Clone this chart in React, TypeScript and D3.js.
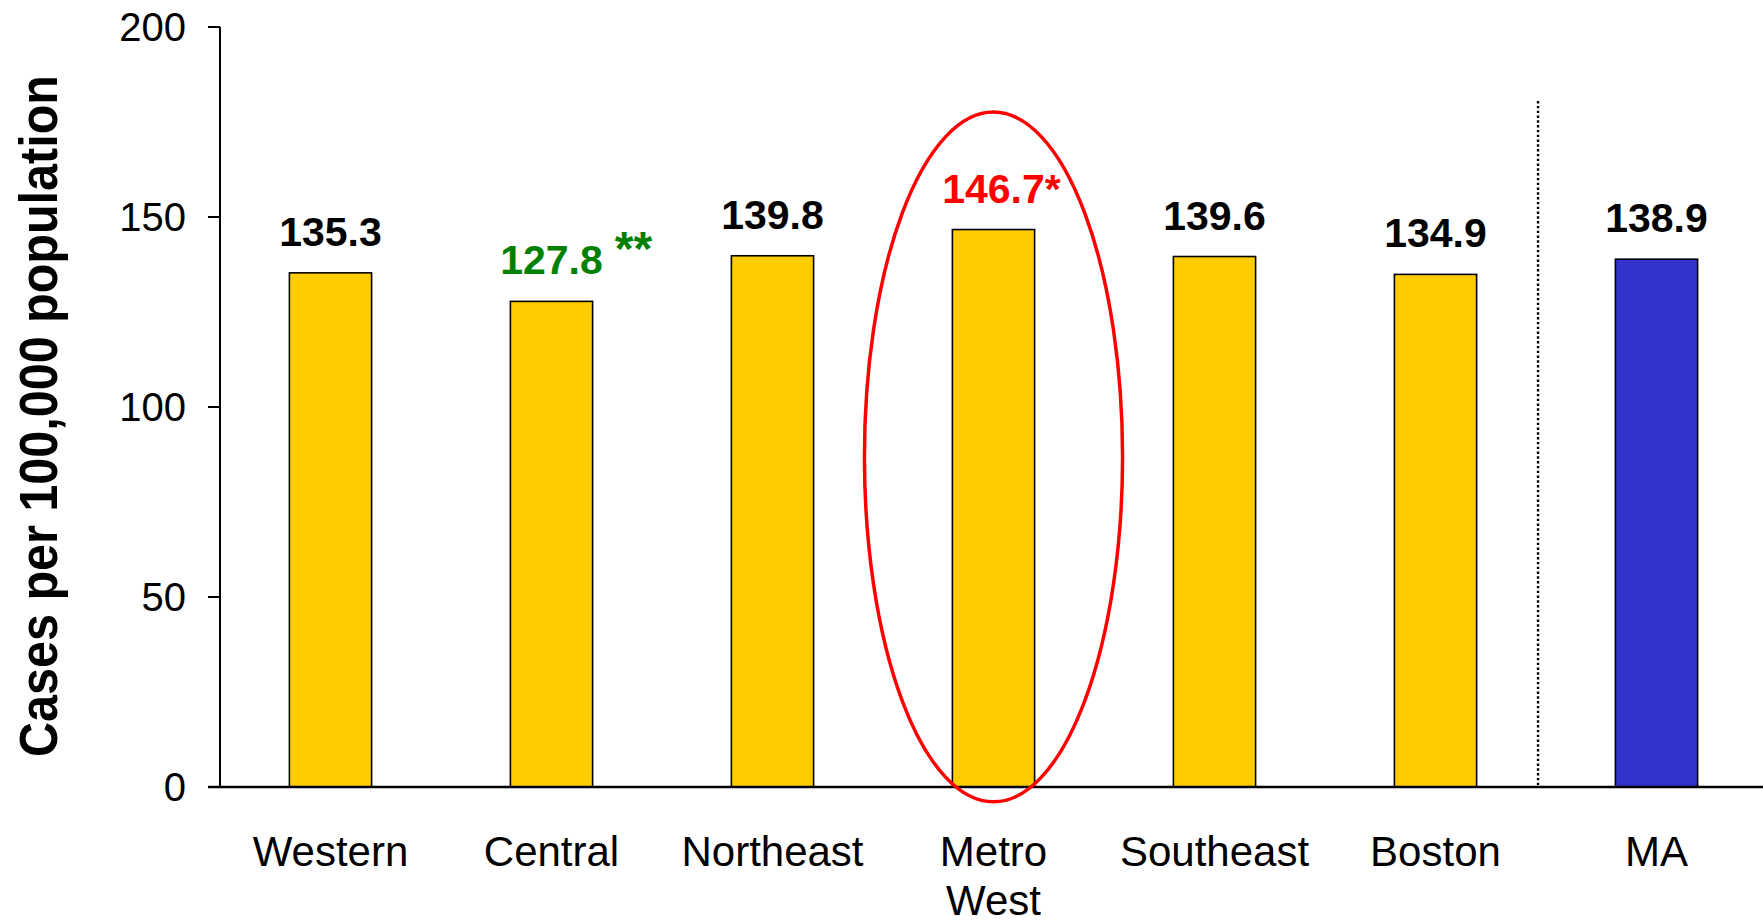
import React, { useEffect, useRef } from "react";
import * as d3 from "d3";

const categories = ["Western", "Central", "Northeast", "Metro West", "Southeast", "Boston", "MA"];
const values = [135.3, 127.8, 139.8, 146.7, 139.6, 134.9, 138.9];
const labelSuffix = ["", " **", "", "*", "", "", ""];
const labelColors = ["#000000", "#008000", "#000000", "#FF0000", "#000000", "#000000", "#000000"];
const barColors = ["#FFCC00", "#FFCC00", "#FFCC00", "#FFCC00", "#FFCC00", "#FFCC00", "#3333CC"];
const yTicks = [0, 50, 100, 150, 200];
const yTitle = "Cases per 100,000 population";
const highlightCategory = "Metro West";
const highlightTop = 177.6;
const highlightBottom = -3.9;
const separatorTop = 180.5;

const W = 1763;
const H = 923;

export default function App() {
  const ref = useRef<SVGSVGElement>(null);

  useEffect(() => {
    const svg = d3.select(ref.current);
    svg.selectAll("*").remove();
    const font = "'Liberation Sans', Arial, sans-serif";

    const x = d3.scaleBand<string>().domain(categories).range([220, 1767]).paddingInner(0.628).paddingOuter(0.314);
    const y = d3.scaleLinear().domain([0, 200]).range([787, 27]);
    const step = x.step();
    const bw = x.bandwidth();

    // bars
    svg.append("g").selectAll("rect").data(categories).join("rect")
      .attr("x", (d) => x(d)!)
      .attr("y", (d, i) => y(values[i]))
      .attr("width", bw)
      .attr("height", (d, i) => y(0) - y(values[i]))
      .attr("fill", (d, i) => barColors[i])
      .attr("stroke", "#000")
      .attr("stroke-width", 1.6);

    // y axis
    const ax = svg.append("g").attr("stroke", "#000").attr("stroke-width", 2);
    ax.append("line").attr("x1", 220).attr("x2", 220).attr("y1", y(0)).attr("y2", y(200));
    ax.selectAll("line.tk").data(yTicks).join("line").attr("class", "tk")
      .attr("x1", 208).attr("x2", 220).attr("y1", (d) => y(d)).attr("y2", (d) => y(d));
    svg.append("g").selectAll("text").data(yTicks).join("text")
      .attr("x", 186).attr("y", (d) => y(d)).attr("dy", "0.36em")
      .attr("text-anchor", "end").attr("font-family", font).attr("font-size", 40)
      .text((d) => d);

    // x axis baseline
    svg.append("line").attr("x1", 208).attr("x2", W).attr("y1", y(0)).attr("y2", y(0))
      .attr("stroke", "#000").attr("stroke-width", 2.5);

    // separator
    const sepX = x("MA")! - step * 0.35;
    svg.append("line").attr("x1", sepX).attr("x2", sepX).attr("y1", y(separatorTop)).attr("y2", y(0))
      .attr("stroke", "#000").attr("stroke-width", 2.4).attr("stroke-dasharray", "2.4 2.4");

    // category labels
    const cl = svg.append("g").attr("font-family", font).attr("font-size", 42).attr("text-anchor", "middle");
    categories.forEach((c) => {
      const t = cl.append("text").attr("x", x(c)! + bw / 2).attr("y", 866);
      const parts = c === "Metro West" ? ["Metro", "West"] : [c];
      parts.forEach((p, j) => {
        t.append("tspan").attr("x", x(c)! + bw / 2).attr("dy", j === 0 ? 0 : 49).text(p);
      });
    });

    // value labels
    const vl = svg.append("g").attr("font-family", font).attr("font-weight", "bold").attr("font-size", 41);
    categories.forEach((c, i) => {
      const cx = x(c)! + bw / 2;
      const by = y(values[i]) - 27;
      const t = vl.append("text").attr("x", cx).attr("y", by).attr("text-anchor", "middle")
        .attr("fill", labelColors[i]).text(values[i].toFixed(1));
      const suf = labelSuffix[i];
      if (suf) {
        const w = (t.node() as SVGTextElement).getComputedTextLength();
        if (suf.trim() === "**") {
          vl.append("text").attr("x", cx + w / 2 + 12).attr("y", by - 9)
            .attr("font-size", 48).attr("fill", labelColors[i]).text("**");
        } else {
          vl.append("text").attr("x", cx + w / 2).attr("y", by)
            .attr("fill", labelColors[i]).text(suf);
        }
      }
    });

    // highlight ellipse
    const hx = x(highlightCategory)! + bw / 2;
    svg.append("ellipse")
      .attr("cx", hx)
      .attr("cy", (y(highlightTop) + y(highlightBottom)) / 2)
      .attr("rx", step * 0.584)
      .attr("ry", (y(highlightBottom) - y(highlightTop)) / 2)
      .attr("fill", "none").attr("stroke", "#FF0000").attr("stroke-width", 3.5);

    // y title
    svg.append("text")
      .attr("transform", "translate(57,416) rotate(-90) scale(1,1.1)")
      .attr("text-anchor", "middle").attr("font-family", font).attr("font-weight", "bold")
      .attr("font-size", 48.5).text(yTitle);
  }, []);

  return (
    <svg ref={ref} width={W} height={H} style={{ position: "absolute", left: 0, top: 0, background: "#fff" }} />
  );
}
